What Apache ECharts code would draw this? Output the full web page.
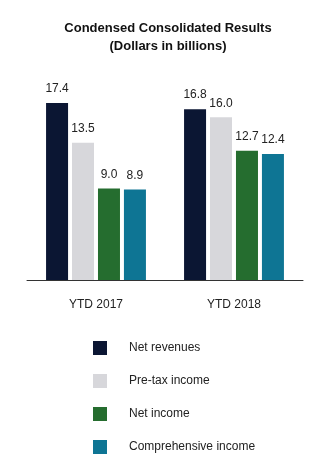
<!DOCTYPE html>
<html><head><meta charset="utf-8">
<script src="https://cdn.jsdelivr.net/npm/echarts@6/dist/echarts.min.js"></script>
<style>html,body{margin:0;padding:0;background:#fff}#c{width:336px;height:469px}</style>
</head><body><div id="c"></div>
<script>
const categories = ['YTD 2017', 'YTD 2018'];
const seriesNames = ['Net revenues', 'Pre-tax income', 'Net income', 'Comprehensive income'];
const netRevenues = [17.4, 16.8];
const preTaxIncome = [13.5, 16.0];
const netIncome = [9.0, 12.7];
const comprehensiveIncome = [8.9, 12.4];
const colors = ['#0b1633', '#d7d7db', '#256d2f', '#0e7594'];
const values = [netRevenues, preTaxIncome, netIncome, comprehensiveIncome];

const chart = echarts.init(document.getElementById('c'));
chart.setOption({
  animation: false,
  textStyle: { fontFamily: 'Liberation Sans, Arial, sans-serif' },
  title: {
    text: 'Condensed Consolidated Results\n(Dollars in billions)',
    left: 'center', top: 14,
    textStyle: { fontSize: 13, fontWeight: 'bold', color: '#111', lineHeight: 18 }
  },
  grid: { left: 27, right: 33, top: 76.6, bottom: 189, containLabel: false },
  xAxis: {
    type: 'category', data: categories,
    axisLine: { lineStyle: { color: '#333', width: 1 } },
    axisTick: { alignWithLabel: true, length: 5, lineStyle: { color: '#333' } },
    axisLabel: { color: '#222', fontSize: 12, margin: 19 }
  },
  yAxis: { type: 'value', min: 0, max: 20, show: false, splitLine: { show: false } },
  legend: {
    orient: 'vertical', left: 88, top: 336,
    itemWidth: 14, itemHeight: 14, itemGap: 19,
    icon: 'rect',
    textStyle: { fontSize: 12, color: '#222', padding: [0, 0, 0, 17] },
    data: seriesNames
  },
  series: seriesNames.map((n, i) => ({
    name: n, type: 'bar', data: values[i],
    barWidth: 22, barGap: '18%',
    itemStyle: { color: colors[i] },
    label: { show: true, position: 'top', distance: 8, fontSize: 12, color: '#222',
      formatter: p => p.value.toFixed(1) }
  }))
});
</script></body></html>
